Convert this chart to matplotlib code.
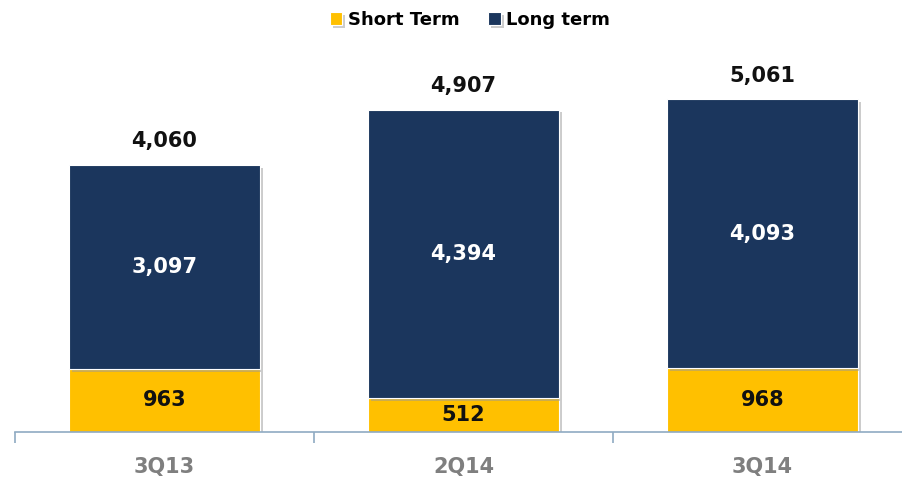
import matplotlib.pyplot as plt
import matplotlib.patheffects as pe
import numpy as np

quarters = ['3Q13', '2Q14', '3Q14']
short_term = [963, 512, 968]
long_term = [3097, 4394, 4093]
totals = [4060, 4907, 5061]

yellow = '#FFC000'
navy = '#1B365D'
axis_col = '#8FAAC2'

plt.rcParams['font.family'] = ['DejaVu Sans']

fig = plt.figure(figsize=(9.03, 4.79), dpi=100)
ax = fig.add_axes([15 / 903, 47 / 479, 888 / 903, 372 / 479])

x = np.arange(len(quarters))
shadow = [pe.SimplePatchShadow(offset=(2, -2), shadow_rgbFace='#9a9a9a', alpha=0.5), pe.Normal()]
b1 = ax.bar(x, short_term, width=0.64, color=yellow, edgecolor='white', linewidth=0.8,
            label='Short Term', path_effects=shadow)
b2 = ax.bar(x, long_term, width=0.64, bottom=short_term, color=navy, edgecolor='white',
            linewidth=0.8, label='Long term', path_effects=shadow)

for i in range(len(quarters)):
    ax.text(x[i], short_term[i] / 2, f'{short_term[i]:,}', ha='center', va='center',
            fontsize=15, fontweight='bold', color='#111111')
    ax.text(x[i], short_term[i] + long_term[i] / 2, f'{long_term[i]:,}', ha='center',
            va='center', fontsize=15, fontweight='bold', color='white')
    ax.text(x[i], totals[i] + 210, f'{totals[i]:,}', ha='center', va='bottom',
            fontsize=15, fontweight='bold', color='#111111')

ax.set_xlim(-0.5, -0.5 + 888 / 299)
ax.set_ylim(0, 5662)

for s in ['top', 'right', 'left']:
    ax.spines[s].set_visible(False)
ax.spines['bottom'].set_color(axis_col)
ax.spines['bottom'].set_linewidth(1.2)
ax.set_yticks([])
ax.set_xticks(x)
ax.set_xticklabels(quarters, fontsize=15, fontweight='bold', color='#7F7F7F')
ax.set_xticks([-0.5, 0.5, 1.5], minor=True)
ax.tick_params(axis='x', which='major', length=0, pad=18)
ax.tick_params(axis='x', which='minor', length=8, width=1.2, color=axis_col)

fig.legend(handles=[b1, b2], loc='center', bbox_to_anchor=(470 / 903, 1 - 20 / 479), ncol=2,
           frameon=False, prop={'weight': 'bold', 'size': 13},
           handlelength=0.7, handleheight=0.7, handletextpad=0.3, columnspacing=1.6)

fig.savefig('out.png', dpi=100)
